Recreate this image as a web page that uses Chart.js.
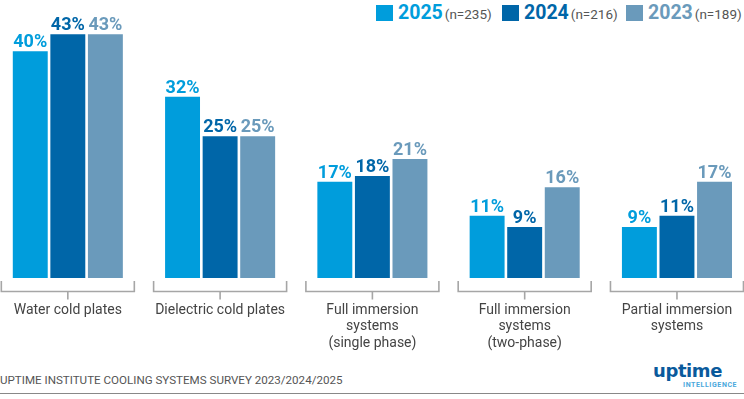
<!DOCTYPE html>
<html>
<head>
<meta charset="utf-8">
<script src="https://cdn.jsdelivr.net/npm/chart.js@4"></script>
<style>
  body { margin: 0; width: 744px; height: 399px; background: #fff; overflow: hidden; position: relative; font-family: Roboto, sans-serif; }
  #wrap { position: absolute; left: -10px; top: 0; width: 766px; height: 360px; }
  .sw { position: absolute; top: 5px; width: 17px; height: 16px; }
  .lab { position: absolute; top: 2px; white-space: nowrap; line-height: 22px; }
  .yr { font-weight: bold; font-size: 19.5px; }
  .n { font-size: 13.5px; color: #555; margin-left: 2px; }
  #source { position: absolute; left: 0; top: 372px; font-size: 11.6px; color: #555; line-height: 16px; }
  #rule { position: absolute; left: 0; top: 393px; width: 744px; height: 1px; background: #888; }
  #logo { position: absolute; left: 653px; top: 362px; line-height: 18px; color: #0a5a9c; font-family: "DejaVu Sans", sans-serif; font-weight: bold; font-size: 18px; letter-spacing: -0.4px; }
  #intel { position: absolute; left: 683px; top: 382px; line-height: 7px; color: #4aa8dc; font-weight: bold; font-size: 7px; letter-spacing: 0.6px; }
</style>
</head>
<body>
<div id="legend"></div>
<div id="wrap"><canvas id="chart"></canvas></div>
<div id="source">UPTIME INSTITUTE COOLING SYSTEMS SURVEY 2023/2024/2025</div>
<div id="logo">uptime</div>
<div id="intel">INTELLIGENCE</div>
<div id="rule"></div>
<script>
// Données du graphique
const categories = [
  ["Water cold plates"],
  ["Dielectric cold plates"],
  ["Full immersion", "systems", "(single phase)"],
  ["Full immersion", "systems", "(two-phase)"],
  ["Partial immersion", "systems"],
];
const seriesNames = ["2025", "2024", "2023"];
const sampleSizes = ["(n=235)", "(n=216)", "(n=189)"];
const values2025 = [40, 32, 17, 11, 9];
const values2024 = [43, 25, 18, 9, 11];
const values2023 = [43, 25, 21, 16, 17];
const colors = ["#009ddc", "#0066a8", "#6a9abb"];

// Légende en HTML (positions des carrés)
const legendX = [376, 502, 626];
const legend = document.getElementById("legend");
seriesNames.forEach((name, i) => {
  const sw = document.createElement("div");
  sw.className = "sw";
  sw.style.left = legendX[i] + "px";
  sw.style.background = colors[i];
  legend.appendChild(sw);
  const lab = document.createElement("div");
  lab.className = "lab";
  lab.style.left = legendX[i] + 22 + "px";
  lab.innerHTML =
    '<span class="yr" style="color:' + colors[i] + '">' + name + '</span>' +
    '<span class="n">' + sampleSizes[i] + '</span>';
  legend.appendChild(lab);
});

// Étiquettes de valeur au-dessus des barres + accolades sous les catégories
const extras = {
  id: "extras",
  afterDatasetsDraw(chart) {
    const ctx = chart.ctx;
    ctx.save();
    ctx.font = "bold 18px Roboto, sans-serif";
    ctx.textAlign = "center";
    ctx.textBaseline = "alphabetic";
    chart.data.datasets.forEach((ds, di) => {
      const meta = chart.getDatasetMeta(di);
      ctx.fillStyle = ds.backgroundColor;
      meta.data.forEach((bar, i) => {
        ctx.fillText(ds.data[i] + "%", bar.x, bar.y - 4);
      });
    });
    // accolades
    const x = chart.scales.x;
    const bottom = chart.chartArea.bottom;
    ctx.strokeStyle = "#a6a6a6";
    ctx.lineWidth = 1.6;
    categories.forEach((c, i) => {
      const cx = x.getPixelForValue(i);
      const half = 66.5;
      const y0 = bottom + 3;
      const y1 = bottom + 13.5;
      ctx.beginPath();
      ctx.moveTo(cx - half, y0);
      ctx.lineTo(cx - half, y1);
      ctx.lineTo(cx + half, y1);
      ctx.lineTo(cx + half, y0);
      ctx.moveTo(cx, y1);
      ctx.lineTo(cx, y1 + 8);
      ctx.stroke();
    });
    ctx.restore();
  },
};

new Chart(document.getElementById("chart"), {
  type: "bar",
  data: {
    labels: categories,
    datasets: [
      { label: seriesNames[0], data: values2025, backgroundColor: colors[0] },
      { label: seriesNames[1], data: values2024, backgroundColor: colors[1] },
      { label: seriesNames[2], data: values2023, backgroundColor: colors[2] },
    ],
  },
  options: {
    responsive: true,
    maintainAspectRatio: false,
    animation: false,
    layout: { padding: { top: 23, left: 0, right: 0, bottom: 0 } },
    datasets: { bar: { categoryPercentage: 0.74, barPercentage: 0.93 } },
    scales: {
      y: { display: false, min: 0, max: 45 },
      x: {
        grid: { display: false, drawTicks: false },
        border: { display: false },
        ticks: {
          padding: 24,
          color: "#444",
          font: { family: "Roboto, sans-serif", size: 14, lineHeight: 1.18 },
          maxRotation: 0,
          autoSkip: false,
        },
        afterFit(scale) { scale.height = 82; },
      },
    },
    plugins: { legend: { display: false }, tooltip: { enabled: false } },
  },
  plugins: [extras],
});
</script>
</body>
</html>
